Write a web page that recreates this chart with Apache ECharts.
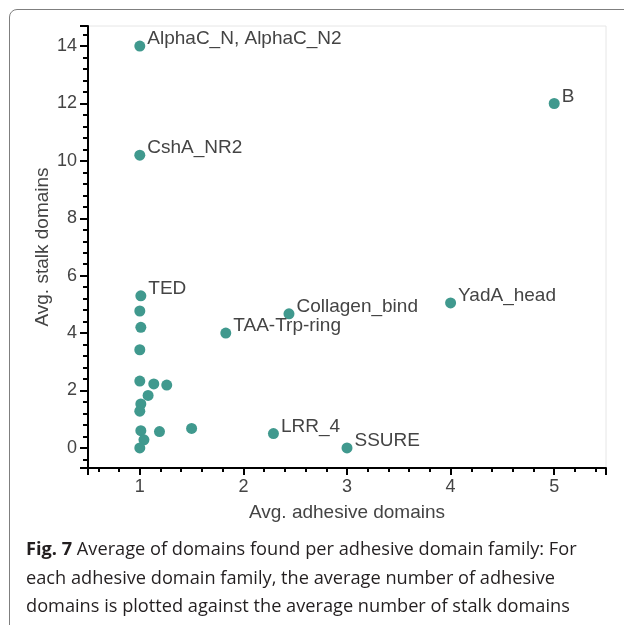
<!DOCTYPE html>
<html>
<head>
<meta charset="utf-8">
<script src="https://cdn.jsdelivr.net/npm/echarts@6/dist/echarts.min.js"></script>
<style>
  html, body { margin: 0; padding: 0; background: #fff; }
  #wrap { position: relative; width: 624px; height: 625px; overflow: hidden; }
  #frame { position: absolute; left: 9px; top: 9px; width: 640px; height: 640px;
           border: 1.5px solid #7f7f7f; border-radius: 8px; box-sizing: border-box; }
  #chart { position: absolute; left: 0; top: 0; width: 624px; height: 625px; }
  #caption { position: absolute; left: 26px; top: 534px; font-family: "Open Sans", sans-serif;
             font-size: 18.2px; line-height: 28.5px; color: #231f20; white-space: nowrap; }
</style>
</head>
<body>
<div id="wrap">
  <div id="frame"></div>
  <div id="chart"></div>
  <div id="caption"><b>Fig. 7</b> Average of domains found per adhesive domain family: For<br>each adhesive domain family, the average number of adhesive<br>domains is plotted against the average number of stalk domains</div>
</div>
<script>
// one entry per adhesive domain family (empty name = unlabelled point)
const families = ['AlphaC_N, AlphaC_N2', 'B', 'CshA_NR2', 'TED', '', '', '', '', '', '', '', '', '', '', '', '', '', '',
  'TAA-Trp-ring', 'Collagen_bind', 'YadA_head', 'LRR_4', 'SSURE'];
const avgAdhesive = [1, 5, 1, 1.01, 1.0, 1.01, 1.0, 1.0, 1.135, 1.26, 1.08, 1.01, 1.0, 1.01, 1.19, 1.5, 1.04, 1.0,
  1.83, 2.44, 4.0, 2.29, 3.0];
const avgStalk = [14, 12, 10.2, 5.3, 4.77, 4.2, 3.42, 2.33, 2.23, 2.19, 1.83, 1.53, 1.28, 0.6, 0.57, 0.68, 0.28, 0,
  4.0, 4.67, 5.05, 0.5, 0];

const xTitle = 'Avg. adhesive domains';
const yTitle = 'Avg. stalk domains';

const chart = echarts.init(document.getElementById('chart'), null, { renderer: 'canvas' });

const font = '"Liberation Sans", Arial, sans-serif';
const tickTxt = { fontFamily: font, fontSize: 18, color: '#444' };
const nameTxt = { fontFamily: font, fontSize: 19, color: '#444' };

const points = families.map((n, i) => ({ name: n, value: [avgAdhesive[i], avgStalk[i]] }));

const option = {
  animation: false,
  grid: {
    left: 88, right: 18, top: 26, bottom: 157,
    show: true, borderColor: '#e6e6e6', borderWidth: 1
  },
  xAxis: {
    type: 'value',
    min: 0.5, max: 5.5, splitNumber: 5,
    name: xTitle, nameLocation: 'middle', nameGap: 35, nameMoveOverlap: false,
    nameTextStyle: nameTxt,
    axisLine: { show: true, onZero: false, lineStyle: { color: '#000', width: 2 } },
    axisTick: { show: true, length: 7, lineStyle: { color: '#000', width: 2 } },
    minorTick: { show: true, splitNumber: 5, length: 4, lineStyle: { color: '#000', width: 2 } },
    axisLabel: Object.assign({ margin: 10, showMinLabel: false, showMaxLabel: false }, tickTxt),
    splitLine: { show: false }
  },
  yAxis: {
    type: 'value',
    min: -0.7, max: 14.7, splitNumber: 7,
    name: yTitle, nameLocation: 'middle', nameGap: 36, nameMoveOverlap: false,
    nameTextStyle: nameTxt,
    axisLine: { show: true, onZero: false, lineStyle: { color: '#000', width: 2 } },
    axisTick: { show: true, length: 8, lineStyle: { color: '#000', width: 2 } },
    minorTick: { show: true, splitNumber: 5, length: 5, lineStyle: { color: '#000', width: 2 } },
    axisLabel: Object.assign({ margin: 11, showMinLabel: false, showMaxLabel: false }, tickTxt),
    splitLine: { show: false }
  },
  series: [{
    type: 'scatter',
    data: points,
    symbolSize: 11,
    itemStyle: { color: '#40998e', opacity: 1 },
    label: {
      show: true,
      position: 'right',
      distance: 2,
      offset: [0, -7],
      formatter: p => p.name,
      fontFamily: font, fontSize: 19, color: '#444'
    }
  }]
};

chart.setOption(option);
</script>
</body>
</html>
